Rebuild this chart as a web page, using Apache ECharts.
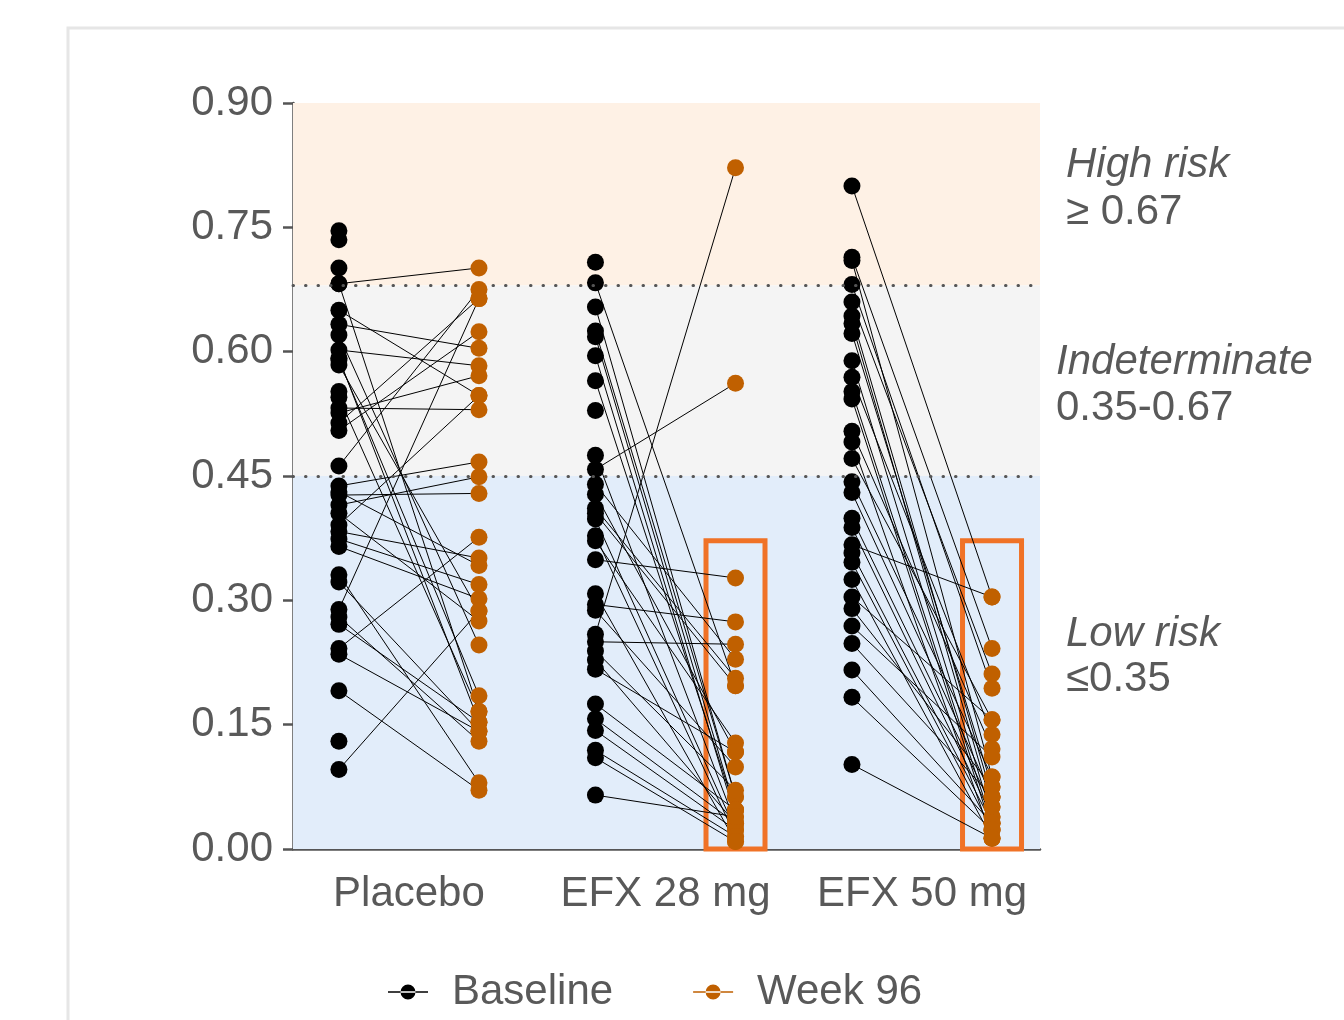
<!DOCTYPE html>
<html>
<head>
<meta charset="utf-8">
<script src="https://cdn.jsdelivr.net/npm/echarts@6/dist/echarts.min.js"></script>
<style>
html,body{margin:0;padding:0;background:#fff;}
#chart{width:1344px;height:1020px;}
</style>
</head>
<body>
<div id="chart"></div>
<script>
// ---- data ----
const categories = ['Placebo', 'EFX 28 mg', 'EFX 50 mg'];
const seriesNames = ['Baseline', 'Week 96'];
// paired per patient (null = no week 96 value)
const placeboBaseline = [0.746, 0.735, 0.701, 0.682, 0.682, 0.650, 0.633, 0.620, 0.602, 0.592, 0.590, 0.584, 0.552, 0.545, 0.532, 0.526, 0.514, 0.505, 0.462, 0.438, 0.431, 0.427, 0.415, 0.405, 0.391, 0.383, 0.374, 0.365, 0.331, 0.322, 0.289, 0.280, 0.271, 0.242, 0.235, 0.191, 0.130, 0.096];
const placeboWeek96   = [null, null, null, 0.701, 0.166, 0.547, 0.604, 0.246, 0.583, 0.153, 0.185, 0.287, null, 0.166, 0.530, 0.571, 0.664, 0.624, 0.675, 0.467, 0.342, 0.429, 0.449, 0.275, 0.547, 0.351, 0.319, 0.302, 0.080, 0.142, 0.664, 0.130, 0.153, 0.376, 0.142, 0.071, null, 0.287];
const efx28Baseline = [0.708, 0.683, 0.654, 0.625, 0.618, 0.595, 0.565, 0.529, 0.475, 0.458, 0.440, 0.428, 0.411, 0.405, 0.398, 0.378, 0.372, 0.349, 0.308, 0.295, 0.288, 0.259, 0.250, 0.239, 0.228, 0.217, 0.175, 0.157, 0.143, 0.119, 0.110, 0.065];
const efx28Week96   = [null, 0.197, 0.063, 0.063, 0.047, 0.039, 0.047, null, 0.031, 0.562, 0.229, 0.117, 0.206, 0.197, 0.023, 0.015, 0.128, 0.327, 0.009, 0.274, 0.099, 0.822, 0.247, 0.071, 0.031, 0.117, 0.047, 0.031, 0.023, 0.015, 0.009, 0.039];
const efx50Baseline = [0.800, 0.714, 0.710, 0.681, 0.660, 0.643, 0.634, 0.622, 0.589, 0.569, 0.552, 0.543, 0.504, 0.491, 0.471, 0.443, 0.430, 0.399, 0.388, 0.367, 0.357, 0.346, 0.325, 0.304, 0.290, 0.269, 0.248, 0.216, 0.183, 0.102];
const efx50Week96   = [0.304, 0.242, 0.087, 0.194, 0.211, 0.063, 0.051, 0.075, 0.039, 0.138, 0.031, 0.023, 0.121, 0.013, 0.156, 0.087, 0.063, 0.051, 0.039, 0.304, 0.031, 0.023, 0.013, 0.156, 0.075, 0.111, 0.063, 0.031, 0.023, 0.013];
// risk bands (y thresholds as drawn)
const bandEdges = [0, 0.45, 0.68, 0.90];
const riskLabels = [
  ['High risk', '\u2265 0.67'],
  ['Indeterminate', '0.35-0.67'],
  ['Low risk', '\u22640.35']
];
const highlightTop = 0.372; // top of the orange boxes

// ---- build ----
const groups = [[placeboBaseline, placeboWeek96], [efx28Baseline, efx28Week96], [efx50Baseline, efx50Week96]];
const OFF = 0.273;
const FONT = "'Liberation Sans', Arial, sans-serif";
const FS = 42;
const baseData = [], weekData = [], lineData = [];
groups.forEach(([b, w], gi) => {
  const gx = gi + 1;
  b.forEach((v, i) => {
    baseData.push([gx - OFF, v]);
    if (w[i] != null) {
      weekData.push([gx + OFF, w[i]]);
      lineData.push({coords: [[gx - OFF, v], [gx + OFF, w[i]]]});
    }
  });
});
const boxHalf = 0.115;
const boxes = [2, 3].map(gx => [
  {xAxis: gx + OFF - boxHalf, yAxis: 0},
  {xAxis: gx + OFF + boxHalf, yAxis: highlightTop}
]);
const bandColors = ['#e2edfa', '#f4f4f4', '#fef1e5'];
const bands = bandColors.map((c, i) => [
  {yAxis: bandEdges[i], itemStyle: {color: c}},
  {yAxis: bandEdges[i + 1]}
]);

const chart = echarts.init(document.getElementById('chart'), null, {renderer: 'canvas'});
const legendIcon = 'path://M0,7.8 L40,7.8 L40,9.2 L0,9.2 Z M12.5,8.5 A7.5,7.5 0 1,0 27.5,8.5 A7.5,7.5 0 1,0 12.5,8.5 Z';

const option = {
  animation: false,
  backgroundColor: '#ffffff',
  textStyle: {fontFamily: FONT},
  grid: {left: 293, top: 103, width: 747, height: 746, containLabel: false},
  xAxis: {
    type: 'value', min: 0.548, max: 3.46,
    splitLine: {show: false},
    axisTick: {show: false},
    axisLine: {lineStyle: {color: '#555555', width: 2.5}},
    axisLabel: {
      fontSize: FS, color: '#595959', margin: 24, fontFamily: FONT,
      showMinLabel: false, showMaxLabel: false,
      formatter: v => (Math.abs(v - Math.round(v)) < 1e-6 ? (categories[Math.round(v) - 1] || '') : '')
    }
  },
  yAxis: {
    type: 'value', min: 0, max: 0.9, interval: 0.15,
    splitLine: {show: false},
    axisLine: {show: true, lineStyle: {color: '#555555', width: 2.5}},
    axisTick: {show: true, length: 10, lineStyle: {color: '#555555', width: 2.5}},
    axisLabel: {fontSize: FS, color: '#595959', margin: 20, fontFamily: FONT, formatter: v => v.toFixed(2)}
  },
  legend: {
    data: seriesNames,
    left: 388, top: 971,
    itemWidth: 40, itemHeight: 17, itemGap: 80,
    icon: legendIcon,
    padding: 0,
    textStyle: {fontSize: FS, color: '#595959', fontFamily: FONT, padding: [0, 0, 0, 19]}
  },
  graphic: [
    {type: 'rect', z: -10, shape: {x: 68, y: 28, width: 1400, height: 1100}, style: {fill: 'none', stroke: '#e6e6e6', lineWidth: 3}},
    {type: 'text', left: 1066, top: 144, style: {text: riskLabels[0][0], font: 'italic ' + FS + 'px ' + FONT, fill: '#595959'}},
    {type: 'text', left: 1066, top: 191, style: {text: riskLabels[0][1], font: FS + 'px ' + FONT, fill: '#595959'}},
    {type: 'text', left: 1056, top: 341, style: {text: riskLabels[1][0], font: 'italic ' + FS + 'px ' + FONT, fill: '#595959'}},
    {type: 'text', left: 1056, top: 387, style: {text: riskLabels[1][1], font: FS + 'px ' + FONT, fill: '#595959'}},
    {type: 'text', left: 1066, top: 613, style: {text: riskLabels[2][0], font: 'italic ' + FS + 'px ' + FONT, fill: '#595959'}},
    {type: 'text', left: 1066, top: 658, style: {text: riskLabels[2][1], font: FS + 'px ' + FONT, fill: '#595959'}}
  ],
  series: [
    {
      name: 'bands', type: 'scatter', data: [], z: 0, silent: true,
      markArea: {silent: true, label: {show: false}, data: bands},
      markLine: {
        silent: true, symbol: ['none', 'none'], label: {show: false},
        lineStyle: {color: '#555555', width: 3, type: [0.5, 12], cap: 'round'},
        data: [{yAxis: 0.68}, {yAxis: 0.45}]
      }
    },
    {
      name: 'pairs', type: 'lines', coordinateSystem: 'cartesian2d', z: 2, silent: true,
      lineStyle: {color: '#000000', width: 1, opacity: 1},
      data: lineData
    },
    {
      name: 'boxes', type: 'scatter', data: [], z: 3, silent: true,
      markArea: {
        silent: true, label: {show: false},
        itemStyle: {color: 'rgba(0,0,0,0)', borderColor: '#f07226', borderWidth: 5},
        data: boxes
      }
    },
    {name: seriesNames[0], type: 'scatter', z: 4, symbolSize: 17, itemStyle: {color: '#000000', opacity: 1}, data: baseData},
    {name: seriesNames[1], type: 'scatter', z: 5, symbolSize: 17, itemStyle: {color: '#c06000', opacity: 1}, data: weekData}
  ]
};
chart.setOption(option);
</script>
</body>
</html>
